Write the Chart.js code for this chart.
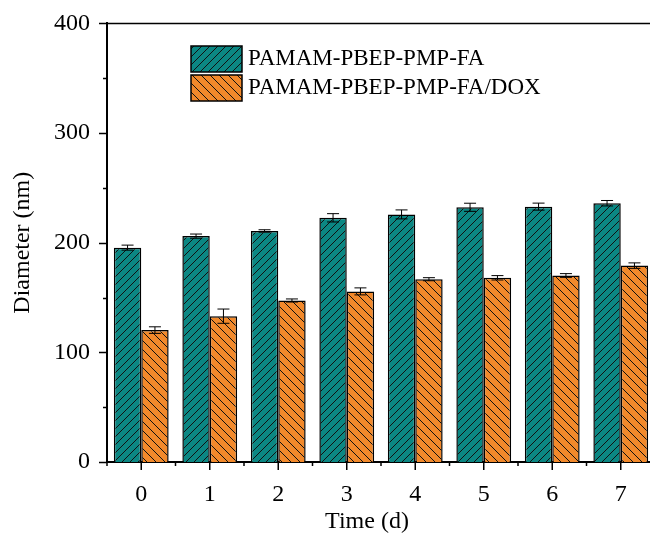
<!DOCTYPE html>
<html>
<head>
<meta charset="utf-8">
<script src="https://cdn.jsdelivr.net/npm/chart.js@4.4.0/dist/chart.umd.min.js"></script>
<style>
html, body { margin: 0; padding: 0; background: #fff; overflow: hidden; }
#wrap { width: 662px; height: 535px; position: relative; }
</style>
</head>
<body>
<div id="wrap"><canvas id="sizeChart"></canvas></div>
<script>
// data
var days = ['0', '1', '2', '3', '4', '5', '6', '7'];
var blankSize = [195.5, 206, 210.7, 222.7, 225.8, 232.3, 232.9, 236];
var blankErr = [2.3, 1.9, 1.1, 3.8, 4.1, 3.7, 3.2, 2.5];
var doxSize = [120.3, 133, 147.3, 155.6, 166.7, 168, 170.1, 179.1];
var doxErr = [3, 6.5, 1.4, 3.2, 1.4, 2, 1.7, 2.5];
var seriesNames = ['PAMAM-PBEP-PMP-FA', 'PAMAM-PBEP-PMP-FA/DOX'];

var FONT = "'Liberation Serif', 'Times New Roman', Times, serif";
var canvas = document.getElementById('sizeChart');
var ctx = canvas.getContext('2d');

function hatch(color, size, forward) {
    var c = document.createElement('canvas');
    c.width = size; c.height = size;
    var g = c.getContext('2d');
    g.fillStyle = color;
    g.fillRect(0, 0, size, size);
    g.strokeStyle = '#111';
    g.lineWidth = 1;
    g.beginPath();
    if (forward) {
        g.moveTo(0, size); g.lineTo(size, 0);
        g.moveTo(-1, 1); g.lineTo(1, -1);
        g.moveTo(size - 1, size + 1); g.lineTo(size + 1, size - 1);
    } else {
        g.moveTo(0, 0); g.lineTo(size, size);
        g.moveTo(size - 1, -1); g.lineTo(size + 1, 1);
        g.moveTo(-1, size - 1); g.lineTo(1, size + 1);
    }
    g.stroke();
    return ctx.createPattern(c, 'repeat');
}

var tealFill = hatch('#0b8783', 8, true);
var orangeFill = hatch('#f2892b', 9, false);

var errorBars = {
    id: 'errorBars',
    afterDatasetsDraw: function(chart) {
        var c = chart.ctx, y = chart.scales.y;
        var errs = [blankErr, doxErr];
        c.save();
        c.strokeStyle = '#000';
        c.lineWidth = 1;
        chart.data.datasets.forEach(function(ds, di) {
            chart.getDatasetMeta(di).data.forEach(function(bar, i) {
                var v = ds.data[i], e = errs[di][i];
                var top = y.getPixelForValue(v + e), bot = y.getPixelForValue(v - e);
                c.beginPath();
                c.moveTo(bar.x, top); c.lineTo(bar.x, bot);
                c.moveTo(bar.x - 6, top); c.lineTo(bar.x + 6, top);
                c.moveTo(bar.x - 6, bot); c.lineTo(bar.x + 6, bot);
                c.stroke();
            });
        });
        c.restore();
    }
};

// top frame line, outward ticks, legend box and x title
var decorations = {
    id: 'decorations',
    afterDraw: function(chart) {
        var c = chart.ctx, a = chart.chartArea;
        var x = chart.scales.x, y = chart.scales.y;
        c.save();
        c.strokeStyle = '#000';
        c.lineWidth = 1.5;
        c.beginPath();
        c.moveTo(a.left, a.top); c.lineTo(a.right, a.top);
        c.stroke();

        c.beginPath();
        for (var v = 0; v <= 400; v += 50) {
            var py = Math.round(y.getPixelForValue(v)) + 0.5;
            var len = v % 100 === 0 ? 8 : 4;
            c.moveTo(a.left, py); c.lineTo(a.left - len, py);
        }
        var step = x.getPixelForValue(1) - x.getPixelForValue(0);
        for (var i = 0; i < days.length; i++) {
            var px = x.getPixelForValue(i);
            c.moveTo(px, a.bottom); c.lineTo(px, a.bottom + 8);
            c.moveTo(px - step / 2, a.bottom); c.lineTo(px - step / 2, a.bottom + 4);
        }
        c.stroke();

        // legend
        var fills = [tealFill, orangeFill];
        c.font = '23px ' + FONT;
        c.textBaseline = 'middle';
        for (var k = 0; k < seriesNames.length; k++) {
            var by = 46 + k * 29;
            c.fillStyle = fills[k];
            c.fillRect(191, by, 51, 26);
            c.strokeRect(191, by, 51, 26);
            c.fillStyle = '#000';
            c.fillText(seriesNames[k], 248, by + 13);
        }

        c.font = '24px ' + FONT;
        c.textAlign = 'center';
        c.fillText('Time (d)', 367, 522);
        c.restore();
    }
};

new Chart(ctx, {
    type: 'bar',
    data: {
        labels: days,
        datasets: [{
            label: seriesNames[0],
            data: blankSize,
            backgroundColor: tealFill,
            borderColor: '#000',
            borderWidth: 1.5
        }, {
            label: seriesNames[1],
            data: doxSize,
            backgroundColor: orangeFill,
            borderColor: '#000',
            borderWidth: 1.5
        }]
    },
    options: {
        responsive: true,
        maintainAspectRatio: false,
        animation: false,
        datasets: { bar: { categoryPercentage: 0.8, barPercentage: 1.0 } },
        layout: { padding: { top: 20, right: 7, left: 0, bottom: 0 } },
        plugins: { legend: { display: false }, tooltip: { enabled: false } },
        scales: {
            x: {
                offset: true,
                grid: { display: false, drawTicks: true, tickLength: 8 },
                border: { display: true, color: '#000', width: 2 },
                ticks: { color: '#000', padding: 10, font: { family: FONT, size: 24 } },
                afterFit: function(s) { s.height = 73; }
            },
            y: {
                min: 0,
                max: 400,
                grid: { display: false, drawTicks: true, tickLength: 8 },
                border: { display: true, color: '#000', width: 2 },
                ticks: { stepSize: 100, color: '#000', padding: 9, font: { family: FONT, size: 24 } },
                title: {
                    display: true,
                    text: 'Diameter (nm)',
                    color: '#000',
                    padding: { top: 8, bottom: 0 },
                    font: { family: FONT, size: 24, weight: 'normal' }
                },
                afterFit: function(s) { s.width = 107; }
            }
        }
    },
    plugins: [errorBars, decorations]
});
</script>
</body>
</html>
